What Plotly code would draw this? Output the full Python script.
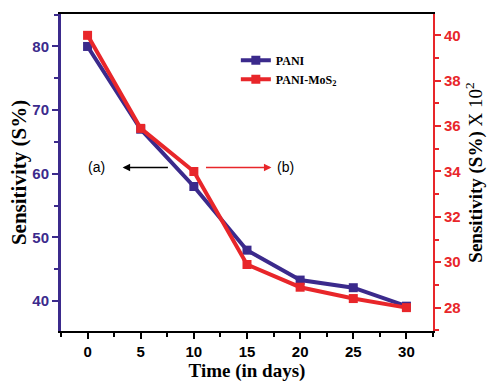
import plotly.graph_objects as go

days = [0, 5, 10, 15, 20, 25, 30]
pani = [80, 67, 58, 48, 43.3, 42.1, 39.2]
pani_mos2 = [40, 35.9, 34, 29.9, 28.9, 28.4, 28]

BLUE = "#3b2a8c"
RED = "#e8262a"

fig = go.Figure()
fig.add_trace(go.Scatter(x=days, y=pani, name="<b>PANI</b>", mode="lines+markers",
                         line=dict(color=BLUE, width=4),
                         marker=dict(symbol="square", size=9, color=BLUE)))
fig.add_trace(go.Scatter(x=days, y=pani_mos2, name="<b>PANI-MoS<sub>2</sub></b>", mode="lines+markers",
                         yaxis="y2",
                         line=dict(color=RED, width=4),
                         marker=dict(symbol="square", size=9, color=RED)))

fig.update_layout(
    width=495, height=385,
    margin=dict(l=61, r=60, t=14, b=44),
    paper_bgcolor="white", plot_bgcolor="white",
    showlegend=True,
    legend=dict(x=0.47, y=0.90, xanchor="left", yanchor="top",
                bgcolor="rgba(0,0,0,0)", itemwidth=30, tracegroupgap=0,
                font=dict(family="Liberation Serif", size=12, color="black")),
    xaxis=dict(range=[-2.5, 32.5], tick0=0, dtick=5, showgrid=False, zeroline=False,
               showline=True, linecolor="black", linewidth=2, mirror=True,
               ticks="outside", ticklen=6, tickwidth=2, tickcolor="black",
               minor=dict(ticks="outside", dtick=2.5, tick0=0, ticklen=4, tickwidth=2, tickcolor="black"),
               tickfont=dict(family="Liberation Sans", size=15, color="black", weight="bold"),
               title=dict(text="<b>Time (in days)</b>", standoff=0,
                          font=dict(family="Liberation Serif", size=19, color="black"))),
    yaxis=dict(range=[35.3, 85.1], tick0=40, dtick=10, showgrid=False, zeroline=False,
               showline=True, linecolor=BLUE, linewidth=3,
               ticks="outside", ticklen=6, tickwidth=2, tickcolor=BLUE,
               minor=dict(ticks="outside", dtick=5, tick0=40, ticklen=4, tickwidth=2, tickcolor=BLUE),
               tickfont=dict(family="Liberation Sans", size=15, color=BLUE, weight="bold"),
               title=dict(text="<b>Sensitivity (S%)</b>", standoff=0,
                          font=dict(family="Liberation Serif", size=21, color="black"))),
    yaxis2=dict(range=[26.97, 40.94], overlaying="y", side="right", tick0=28, dtick=2,
                showgrid=False, zeroline=False,
                showline=True, linecolor=RED, linewidth=2,
                ticks="outside", ticklen=6, tickwidth=2, tickcolor=RED,
                minor=dict(ticks="outside", dtick=1, tick0=28, ticklen=4, tickwidth=2, tickcolor=RED),
                tickfont=dict(family="Liberation Sans", size=15, color=RED, weight="bold"),
                title=dict(text="<b>Sensitivity (S%)</b> X 10<sup>2</sup>", standoff=8,
                           font=dict(family="Liberation Serif", size=19, color="black"))),
)

fig.add_annotation(x=3.3, y=61, ax=7.7, ay=61, xref="x", yref="y", axref="x", ayref="y",
                   text="", showarrow=True, arrowhead=2, arrowsize=1, arrowwidth=1.5, arrowcolor="black")
fig.add_annotation(x=0.8, y=61, xref="x", yref="y", text="(a)", showarrow=False,
                   font=dict(family="Liberation Sans", size=14, color="black"))
fig.add_annotation(x=17.3, y=61, ax=11.0, ay=61, xref="x", yref="y", axref="x", ayref="y",
                   text="", showarrow=True, arrowhead=2, arrowsize=1, arrowwidth=1.5, arrowcolor=RED)
fig.add_annotation(x=18.6, y=61, xref="x", yref="y", text="(b)", showarrow=False,
                   font=dict(family="Liberation Sans", size=14, color="black"))

fig.write_html("out.html")
